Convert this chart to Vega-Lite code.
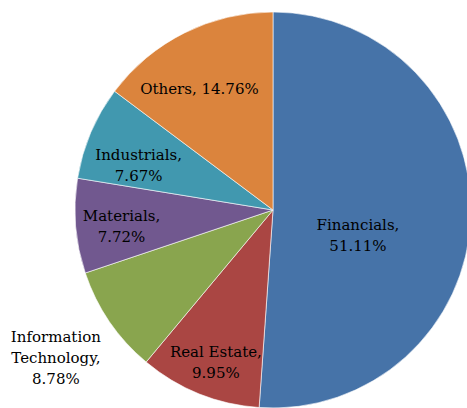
{
  "$schema": "https://vega.github.io/schema/vega-lite/v6.json",
  "width": 546,
  "height": 420,
  "padding": 0,
  "autosize": {"type": "none"},
  "background": "white",
  "config": {"view": {"stroke": null}},
  "data": {
    "values": [
      {"category": "Financials", "share": 51.11, "idx": 1, "label": "Financials,\n51.11%"},
      {"category": "Real Estate", "share": 9.95, "idx": 2, "label": "Real Estate,\n9.95%"},
      {"category": "Information Technology", "share": 8.78, "idx": 3, "label": "Information\nTechnology,\n8.78%"},
      {"category": "Materials", "share": 7.72, "idx": 4, "label": "Materials,\n7.72%"},
      {"category": "Industrials", "share": 7.67, "idx": 5, "label": "Industrials,\n7.67%"},
      {"category": "Others", "share": 14.76, "idx": 6, "label": "Others, 14.76%"}
    ]
  },
  "encoding": {
    "theta": {"field": "share", "type": "quantitative", "stack": true},
    "order": {"field": "idx", "type": "quantitative"}
  },
  "layer": [
    {
      "mark": {"type": "arc", "outerRadius": 198, "stroke": "white", "strokeWidth": 0.6},
      "encoding": {
        "color": {
          "field": "category",
          "type": "nominal",
          "legend": null,
          "scale": {
            "domain": ["Financials", "Real Estate", "Information Technology", "Materials", "Industrials", "Others"],
            "range": ["#4673A8", "#AA4643", "#89A54E", "#71588F", "#4198AF", "#DB843D"]
          }
        }
      }
    },
    {
      "mark": {"type": "text", "radius": 85, "dy": 12, "font": "DejaVu Serif", "fontSize": 15, "lineHeight": 21, "lineBreak": "\n", "color": "black", "align": "center", "baseline": "middle"},
      "encoding": {"text": {"condition": {"test": "datum.category === 'Financials'", "field": "label"}, "value": ""}}
    },
    {
      "mark": {"type": "text", "radius": 153, "font": "DejaVu Serif", "fontSize": 15, "lineHeight": 21, "lineBreak": "\n", "color": "black", "align": "center", "baseline": "middle"},
      "encoding": {"text": {"condition": {"test": "datum.category === 'Real Estate'", "field": "label"}, "value": ""}}
    },
    {
      "mark": {"type": "text", "radius": 263, "dy": -21, "font": "DejaVu Serif", "fontSize": 15, "lineHeight": 21, "lineBreak": "\n", "color": "black", "align": "center", "baseline": "middle"},
      "encoding": {"text": {"condition": {"test": "datum.category === 'Information Technology'", "field": "label"}, "value": ""}}
    },
    {
      "mark": {"type": "text", "radius": 152, "dy": -6, "font": "DejaVu Serif", "fontSize": 15, "lineHeight": 21, "lineBreak": "\n", "color": "black", "align": "center", "baseline": "middle"},
      "encoding": {"text": {"condition": {"test": "datum.category === 'Materials'", "field": "label"}, "value": ""}}
    },
    {
      "mark": {"type": "text", "radius": 146, "dy": 2, "font": "DejaVu Serif", "fontSize": 15, "lineHeight": 21, "lineBreak": "\n", "color": "black", "align": "center", "baseline": "middle"},
      "encoding": {"text": {"condition": {"test": "datum.category === 'Industrials'", "field": "label"}, "value": ""}}
    },
    {
      "mark": {"type": "text", "radius": 142, "dx": -10, "dy": 6, "font": "DejaVu Serif", "fontSize": 15, "lineHeight": 21, "lineBreak": "\n", "color": "black", "align": "center", "baseline": "middle"},
      "encoding": {"text": {"condition": {"test": "datum.category === 'Others'", "field": "label"}, "value": ""}}
    }
  ]
}
